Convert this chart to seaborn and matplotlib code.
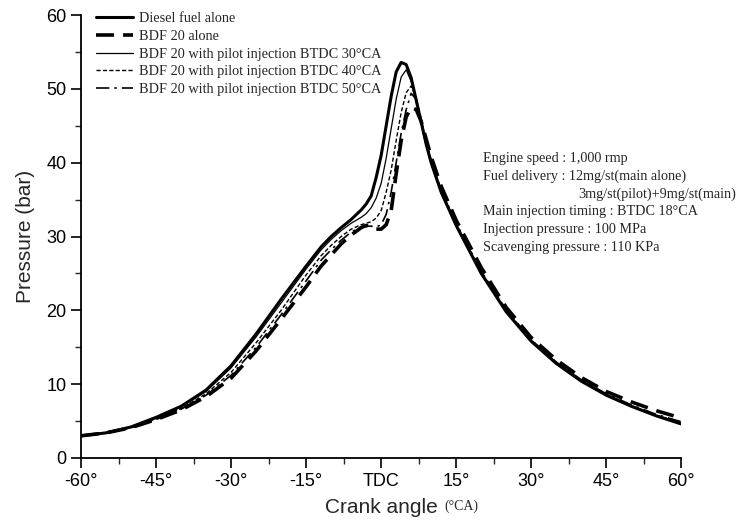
import numpy as np
import pandas as pd
import seaborn as sns
import matplotlib.pyplot as plt


# crank angle (deg, TDC = 0)
angle = [-60, -55, -50, -45, -40, -35, -30, -25, -20, -15, -12, -10, -8, -6, -4, -3, -2, -1,
         0, 1, 2, 3, 4, 5, 6, 7, 8, 9, 10, 12, 15, 20, 25, 30, 35, 40, 45, 50, 55, 60]

# cylinder pressure (bar)
diesel = [3.0, 3.4, 4.2, 5.5, 7.0, 9.2, 12.5, 16.8, 21.5, 26.0, 28.6, 30.0, 31.2, 32.3, 33.6, 34.4, 35.5, 38.0,
          41.0, 45.0, 49.0, 52.3, 53.6, 53.3, 51.5, 48.5, 45.5, 42.5, 40.0, 36.0, 31.5, 25.0, 19.8, 15.8, 12.8, 10.4, 8.5, 7.0, 5.7, 4.6]
bdf20 = [3.0, 3.4, 4.1, 5.2, 6.5, 8.3, 10.8, 14.5, 18.8, 23.2, 26.0, 27.5, 29.0, 30.2, 31.2, 31.5, 31.3, 31.0,
         31.0, 31.6, 33.5, 38.5, 43.0, 46.2, 47.5, 47.2, 45.6, 43.2, 40.8, 36.8, 32.2, 25.8, 20.4, 16.3, 13.3, 10.9, 9.0, 7.6, 6.4, 5.4]
pilot30 = [3.0, 3.4, 4.2, 5.4, 6.9, 9.0, 12.2, 16.4, 21.0, 25.6, 28.2, 29.6, 30.8, 31.8, 32.6, 33.1, 33.9, 35.2,
           37.2, 40.6, 44.6, 48.6, 51.6, 52.6, 51.0, 48.2, 45.2, 42.3, 39.8, 35.9, 31.4, 25.0, 19.8, 15.8, 12.8, 10.4, 8.5, 7.0, 5.7, 4.7]
pilot40 = [3.0, 3.4, 4.1, 5.3, 6.7, 8.7, 11.6, 15.6, 20.0, 24.8, 27.4, 28.8, 30.0, 31.0, 31.6, 31.8, 32.0, 32.5,
           33.5, 36.0, 39.0, 43.0, 46.8, 49.5, 50.4, 48.8, 45.8, 42.8, 40.2, 36.2, 31.7, 25.2, 20.0, 16.0, 12.9, 10.5, 8.6, 7.1, 5.8, 4.8]
pilot50 = [3.0, 3.4, 4.1, 5.2, 6.6, 8.5, 11.2, 15.0, 19.4, 24.0, 26.8, 28.2, 29.5, 30.6, 31.3, 31.4, 31.4, 31.3,
           31.6, 33.0, 36.0, 40.0, 44.0, 47.2, 49.4, 48.6, 45.8, 42.9, 40.3, 36.3, 31.8, 25.3, 20.1, 16.0, 13.0, 10.6, 8.7, 7.2, 5.9, 4.9]

labels = ["Diesel fuel alone", "BDF 20 alone",
          "BDF 20 with pilot injection BTDC 30°CA",
          "BDF 20 with pilot injection BTDC 40°CA",
          "BDF 20 with pilot injection BTDC 50°CA"]

xticks = [-60, -45, -30, -15, 0, 15, 30, 45, 60]
xticklabels = ["-60°", "-45°", "-30°", "-15°", "TDC", "15°", "30°", "45°", "60°"]

note_lines = ["Engine speed : 1,000 rmp",
              "Fuel delivery : 12mg/st(main alone)",
              "3mg/st(pilot)+9mg/st(main)",
              "Main injection timing : BTDC 18°CA",
              "Injection pressure : 100 MPa",
              "Scavenging pressure : 110 KPa"]

sns.set_style("ticks")
plt.rcParams['font.family'] = ['Liberation Sans', 'DejaVu Sans']

fig = plt.figure(figsize=(7.43, 5.21), dpi=100)
ax = fig.add_axes([0.109, 0.121, 0.808, 0.850])

series = [diesel, bdf20, pilot30, pilot40, pilot50]
styles = [dict(lw=2.2, ls='-'),
          dict(lw=2.6, ls=(0, (5, 2.5))),
          dict(lw=0.9, ls='-'),
          dict(lw=1.0, ls=(0, (3, 1.6))),
          dict(lw=1.2, ls=(0, (8, 3, 1.5, 3)))]

for y, lab, st in zip(series, labels, styles):
    sns.lineplot(x=angle, y=y, ax=ax, color='black', label=lab,
                 linewidth=st['lw'], linestyle=st['ls'])

ax.set_xlim(-60, 60)
ax.set_ylim(0, 60)
ax.set_xticks(xticks)
ax.set_xticklabels(xticklabels)
ax.set_xticks(np.arange(-52.5, 60, 15), minor=True)
ax.set_yticks(range(0, 61, 10))
ax.set_yticks(range(5, 60, 10), minor=True)
ax.tick_params(which='major', direction='out', length=7, width=1.2, labelsize=13, colors='black')
ax.tick_params(which='minor', direction='out', length=4, width=1.0)
for s in ['left', 'bottom']:
    ax.spines[s].set_linewidth(1.3)
    ax.spines[s].set_color('black')
sns.despine(ax=ax)

ax.set_xlabel("Crank angle", fontsize=15, labelpad=6)
ax.set_ylabel("Pressure (bar)", fontsize=15, labelpad=8)
fig.text(0.598, 0.022, "(°CA)", fontsize=10, family='Liberation Serif')

leg = ax.legend(loc='upper left', bbox_to_anchor=(0.004, 1.035), frameon=False,
                prop={'family': 'Liberation Serif', 'size': 10.3},
                handlelength=2.6, labelspacing=0.32, handletextpad=0.4)

# operating conditions, one text per line
for i, line in enumerate(note_lines):
    xpos = 0.828 if i == 2 else 0.67
    ax.text(xpos, 0.677 - 0.0405 * i, line, transform=ax.transAxes, va='center', ha='left',
            fontsize=10.2, family='Liberation Serif')

plt.savefig("out.png", dpi=100)
